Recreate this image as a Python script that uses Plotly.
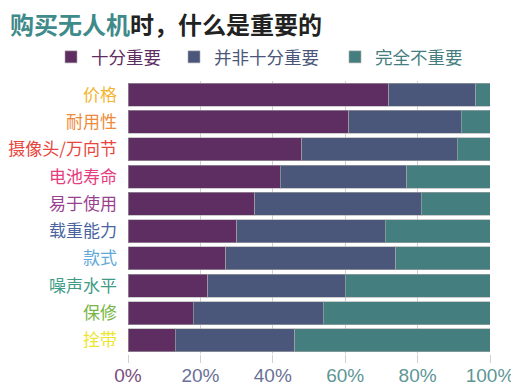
import plotly.graph_objects as go

categories = ["价格", "耐用性", "摄像头/万向节", "电池寿命", "易于使用", "载重能力", "款式", "噪声水平", "保修", "拴带"]
label_colors = ["#F2B632", "#EE8A3A", "#E8453C", "#E63C7E", "#9A3F8E", "#4A64A0", "#62A9DA", "#3E9C84", "#77B644", "#EDE52E"]
very_important = [72, 61, 48, 42, 35, 30, 27, 22, 18, 13]
not_very_important = [24, 31, 43, 35, 46, 41, 47, 38, 36, 33]
not_important = [4, 8, 9, 23, 19, 29, 26, 40, 46, 54]
series_names = ["十分重要", "并非十分重要", "完全不重要"]
series_colors = ["#5E2D62", "#4A577A", "#457E7F"]
tick_vals = [0, 20, 40, 60, 80, 100]
tick_colors = ["#7A4E7E", "#6A7196", "#6A7196", "#5E9696", "#5E9696", "#5E9696"]

font = "Noto Sans CJK SC"
# page has an 8px body margin, so the figure is sized to the visible area
W, H = 511, 380
L, R, T, B = 120, 29, 73, 34
pw, ph = W - L - R, H - T - B

legend_ids = ["legend", "legend2", "legend3"]
legend_text_x = [81, 204, 365]  # figure px where each legend text starts

fig = go.Figure()
for name, vals, col, lid in zip(series_names, [very_important, not_very_important, not_important], series_colors, legend_ids):
    fig.add_trace(go.Bar(
        y=categories, x=vals, orientation="h",
        name=f"<span style='color:{col}'>{name}</span>",
        legend=lid,
        marker=dict(color=col, line=dict(color="rgba(170,170,170,0.6)", width=1)),
    ))

legend_y = 1 + (T - 49) / ph
layout_legends = {}
for lid, tx in zip(legend_ids, legend_text_x):
    layout_legends[lid] = dict(
        orientation="h", x=(tx - 38 - L) / pw, xanchor="left", xref="paper",
        y=legend_y, yanchor="middle", yref="paper",
        font=dict(size=17.5, family=font), bgcolor="rgba(0,0,0,0)",
    )

fig.update_layout(
    barmode="stack", bargap=0.16,
    width=W, height=H,
    margin=dict(l=L, r=R, t=T, b=B),
    paper_bgcolor="white", plot_bgcolor="white",
    font=dict(family=font, size=15),
    title=dict(
        text="<b><span style='color:#3F8A8A'>购买无人机</span><span style='color:#222222'>时，什么是重要的</span></b>",
        x=2 / W, xanchor="left", xref="container",
        y=1 - 18 / H, yanchor="middle", yref="container",
        font=dict(size=24, family=font),
    ),
    showlegend=True,
    **layout_legends,
)
fig.update_xaxes(
    range=[0, 100], tickvals=tick_vals,
    ticktext=[f"<span style='color:{c}'>{v}%</span>" for v, c in zip(tick_vals, tick_colors)],
    showgrid=True, gridcolor="#D0D0D0", gridwidth=1,
    ticks="outside", ticklen=8, tickcolor="#D0D0D0",
    tickfont=dict(size=19, family="Liberation Sans"),
    ticklabelstandoff=-4,
    zeroline=False, showline=False, automargin=False,
)
fig.update_yaxes(
    autorange="reversed",
    tickvals=categories,
    ticktext=[f"<span style='color:{c}'>{t}</span>" for t, c in zip(categories, label_colors)],
    tickfont=dict(size=17, family=font),
    ticks="", ticklabelstandoff=10,
    showgrid=False, automargin=False,
)
fig.write_html("out.html")
